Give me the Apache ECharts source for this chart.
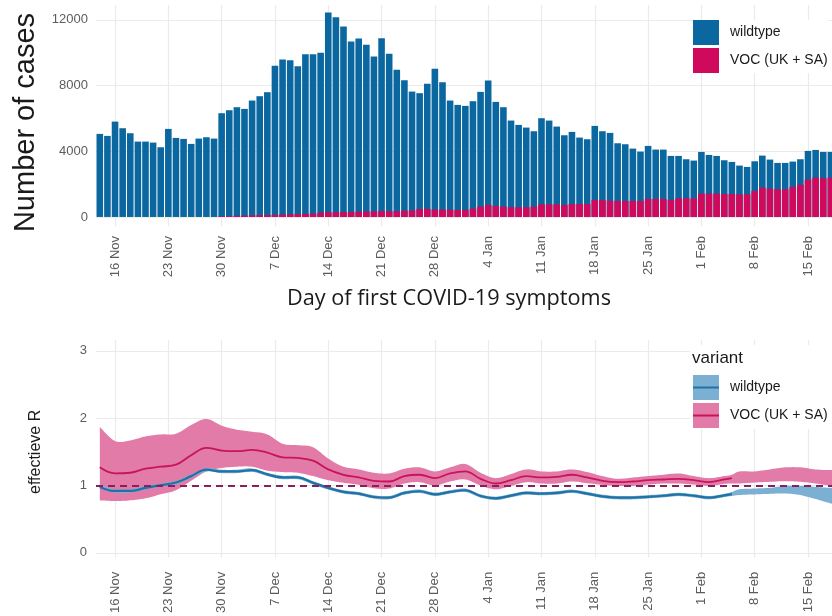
<!DOCTYPE html>
<html>
<head>
<meta charset="utf-8">
<script src="https://cdn.jsdelivr.net/npm/echarts@6/dist/echarts.min.js"></script>
<style>
html,body{margin:0;padding:0;background:#fff;}
#chart{width:832px;height:616px;}
</style>
</head>
<body>
<div id="chart"></div>
<script>
// ---- axis ticks (day offsets from 16 Nov) ----
const tickDays = [0, 7, 14, 21, 28, 35, 42, 49, 56, 63, 70, 77, 84, 91];
const tickLabels = ['16 Nov', '23 Nov', '30 Nov', '7 Dec', '14 Dec', '21 Dec', '28 Dec',
  '4 Jan', '11 Jan', '18 Jan', '25 Jan', '1 Feb', '8 Feb', '15 Feb'];
const caseTicks = [0, 4000, 8000, 12000];
const rTicks = [0, 1, 2, 3];

// ---- daily case counts, first bar = 14 Nov (day -2) ----
const caseFirstDay = -2;
const wildtypeCases = [
  5055, 4933, 5804, 5400, 5096, 4587, 4587, 4526, 4242, 5359,
  4811, 4750, 4446, 4770, 4851, 4770, 6274, 6446, 6609, 6497,
  6985, 7239, 7473, 9066, 9432, 9371, 8996, 9717, 9707, 9728,
  12155, 11870, 11290, 10376, 10540, 10145, 9423, 10520, 9577, 8603,
  7945, 7231, 7053, 7610, 8563, 7753, 6645, 6391, 6330, 6535,
  6983, 7570, 6333, 6049, 5277, 5013, 4850, 4588, 5240, 5097,
  4731, 4243, 4387, 4041, 3940, 4507, 4183, 4121, 3511, 3450,
  3186, 3004, 3228, 3005, 3005, 2680, 2578, 2375, 2294, 2539,
  2356, 2295, 2051, 1950, 1747, 1665, 1807, 1950, 1767, 1604,
  1604, 1543, 1545, 1742, 1687, 1604, 1566
];
const vocCases = [
  0, 0, 0, 0, 0, 0, 0, 0, 0, 0,
  0, 0, 0, 0, 0, 0, 40, 50, 70, 80,
  100, 110, 120, 130, 150, 170, 180, 190, 200, 260,
  290, 290, 300, 300, 320, 330, 340, 360, 350, 350,
  380, 400, 480, 490, 450, 450, 440, 430, 430, 510,
  630, 730, 670, 630, 590, 590, 590, 630, 770, 770,
  770, 730, 790, 790, 790, 1035, 1035, 995, 975, 975,
  975, 975, 1096, 1096, 1096, 1035, 1137, 1137, 1137, 1420,
  1420, 1420, 1400, 1400, 1380, 1380, 1583, 1785, 1725, 1685,
  1685, 1827, 1967, 2278, 2393, 2355, 2393
];

// ---- effective R (day offsets from 16 Nov) ----
const rLineDays = [-2, 0, 2, 4, 6, 8, 10, 12, 14, 16, 18, 20, 22, 24, 26, 28, 30, 32, 34, 36,
  38, 40, 42, 44, 46, 48, 50, 52, 54, 56, 58, 60, 62, 64, 66, 68, 70, 72, 74, 76, 78, 80, 81];
const rBandDays = rLineDays.concat([82, 84, 86, 88, 90, 92, 94, 95]);

const vocR = [1.27, 1.18, 1.19, 1.25, 1.28, 1.31, 1.45, 1.56, 1.52, 1.51,
  1.53, 1.49, 1.42, 1.41, 1.37, 1.24, 1.16, 1.12, 1.07, 1.06,
  1.14, 1.16, 1.11, 1.18, 1.21, 1.10, 1.03, 1.08, 1.14, 1.12,
  1.13, 1.16, 1.12, 1.07, 1.05, 1.06, 1.08, 1.09, 1.10, 1.08,
  1.05, 1.09, 1.11];
const vocRUpper = [1.87, 1.66, 1.67, 1.73, 1.76, 1.77, 1.90, 1.99, 1.89, 1.83,
  1.80, 1.76, 1.62, 1.60, 1.57, 1.40, 1.28, 1.24, 1.19, 1.18,
  1.25, 1.27, 1.21, 1.27, 1.32, 1.19, 1.11, 1.17, 1.24, 1.21,
  1.21, 1.24, 1.20, 1.14, 1.10, 1.12, 1.14, 1.16, 1.18, 1.14,
  1.11, 1.14, 1.16, 1.21, 1.21, 1.24, 1.27, 1.27, 1.24, 1.23, 1.25];
const vocRLower = [0.78, 0.77, 0.78, 0.81, 0.87, 0.93, 1.07, 1.21, 1.26, 1.28,
  1.28, 1.22, 1.20, 1.19, 1.14, 1.08, 1.04, 1.01, 0.96, 0.955,
  1.03, 1.05, 1.00, 1.06, 1.09, 1.00, 0.945, 0.995, 1.05, 1.03,
  1.03, 1.06, 1.035, 1.01, 0.995, 0.995, 1.015, 1.03, 1.03, 1.015,
  0.995, 1.025, 1.03, 1.03, 1.045, 1.055, 1.065, 1.055, 1.03, 0.995, 0.97];

const wildR = [0.98, 0.92, 0.92, 0.965, 1.005, 1.045, 1.14, 1.235, 1.21, 1.21,
  1.23, 1.165, 1.12, 1.12, 1.04, 0.965, 0.905, 0.88, 0.83, 0.82,
  0.89, 0.915, 0.87, 0.905, 0.93, 0.845, 0.81, 0.85, 0.89, 0.88,
  0.89, 0.915, 0.88, 0.84, 0.82, 0.82, 0.833, 0.848, 0.868, 0.848,
  0.82, 0.853, 0.873];
const wildRLower = [0.955, 0.895, 0.895, 0.94, 0.98, 1.02, 1.115, 1.21, 1.185, 1.185,
  1.205, 1.14, 1.095, 1.095, 1.015, 0.94, 0.88, 0.855, 0.805, 0.795,
  0.865, 0.89, 0.845, 0.88, 0.905, 0.82, 0.785, 0.825, 0.865, 0.855,
  0.865, 0.89, 0.855, 0.815, 0.795, 0.795, 0.808, 0.823, 0.843, 0.823,
  0.795, 0.828, 0.845, 0.86, 0.868, 0.877, 0.882, 0.858, 0.80, 0.735, 0.72];
const wildRUpper = [1.005, 0.945, 0.945, 0.99, 1.03, 1.07, 1.165, 1.26, 1.235, 1.235,
  1.255, 1.19, 1.145, 1.145, 1.065, 0.99, 0.93, 0.905, 0.855, 0.845,
  0.915, 0.94, 0.895, 0.93, 0.955, 0.87, 0.835, 0.875, 0.915, 0.905,
  0.915, 0.94, 0.905, 0.865, 0.845, 0.845, 0.858, 0.873, 0.893, 0.873,
  0.845, 0.878, 0.905, 0.945, 0.956, 0.966, 0.995, 0.995, 0.98, 0.966, 0.965];
const refR = 1;

const names = ['wildtype', 'VOC (UK + SA)'];
const bandNames = ['wildtype interval', 'VOC interval'];

// ---- styles ----
const C = {
  wtBar: '#0b679f', vocBar: '#cf0a5c',
  wtLine: '#1f72a6', vocLine: '#c8145b',
  wtBand: '#7cb0d3', vocBand: '#e27ba8',
  ref: '#8a1f5e', grid: '#ebebeb', tick: '#5c5c5c', title: '#1a1a1a'
};
const FONT = '"Liberation Sans", Arial, sans-serif';

const xMin = -2.5, xMax = 94.15;
function dayLabel(v) { const i = tickDays.indexOf(v); return i < 0 ? '' : tickLabels[i]; }

function xAxisCfg(gi, margin) {
  return {
    type: 'value', gridIndex: gi, min: xMin, max: xMax,
    axisLine: { show: false },
    axisTick: { show: false, customValues: tickDays },
    axisLabel: { customValues: tickDays, formatter: dayLabel, rotate: 90, margin: margin,
      color: C.tick, fontSize: 13, fontFamily: FONT },
    splitLine: { show: true, lineStyle: { color: C.grid, width: 1.2 } }
  };
}

const pairs = (days, vals) => vals.map((v, i) => [days[i], v]);

// smooth (Catmull-Rom) sampling of pixel points
function smoothPts(pts) {
  const out = [];
  const n = pts.length;
  for (let i = 0; i < n - 1; i++) {
    const p0 = pts[i - 1] || pts[i], p1 = pts[i], p2 = pts[i + 1], p3 = pts[i + 2] || pts[i + 1];
    const c1 = [p1[0] + (p2[0] - p0[0]) / 6, p1[1] + (p2[1] - p0[1]) / 6];
    const c2 = [p2[0] - (p3[0] - p1[0]) / 6, p2[1] - (p3[1] - p1[1]) / 6];
    for (let k = 0; k < 8; k++) {
      const t = k / 8, u = 1 - t;
      out.push([
        u * u * u * p1[0] + 3 * u * u * t * c1[0] + 3 * u * t * t * c2[0] + t * t * t * p2[0],
        u * u * u * p1[1] + 3 * u * u * t * c1[1] + 3 * u * t * t * c2[1] + t * t * t * p2[1]
      ]);
    }
  }
  out.push(pts[n - 1]);
  return out;
}

function bandSeries(name, lo, hi, color) {
  return {
    name: name, type: 'custom', xAxisIndex: 1, yAxisIndex: 1, clip: true, silent: true,
    data: rBandDays.map((d, i) => [d, lo[i], hi[i]]),
    encode: { x: 0, y: [1, 2] },
    renderItem: function (params, api) {
      if (params.dataIndex !== 0) return null;
      const top = smoothPts(rBandDays.map((d, i) => api.coord([d, hi[i]])));
      const bot = smoothPts(rBandDays.map((d, i) => api.coord([d, lo[i]]))).reverse();
      return { type: 'polygon', shape: { points: top.concat(bot) }, style: { fill: color } };
    }
  };
}

const totalCases = wildtypeCases.map((v, i) => v + vocCases[i]);

const chart = echarts.init(document.getElementById('chart'), null, { renderer: 'canvas' });
chart.setOption({
  animation: false,
  backgroundColor: '#fff',
  textStyle: { fontFamily: FONT },
  grid: [
    { left: 96, right: 0, top: 5, height: 221 },
    { left: 96, right: 0, top: 340, height: 220 }
  ],
  title: [
    { text: 'Day of first COVID-19 symptoms', left: 287, top: 288, padding: 0,
      textStyle: { fontSize: 21.7, fontWeight: 'normal', color: C.title, fontFamily: '"Open Sans", "Noto Sans", sans-serif' } },
    { text: 'variant', left: 690, top: 345, padding: [5, 100, 62, 2], backgroundColor: '#fff', z: 3,
      textStyle: { fontSize: 17, fontWeight: 'normal', color: C.title, fontFamily: FONT } }
  ],
  xAxis: [xAxisCfg(0, 10), xAxisCfg(1, 14)],
  yAxis: [
    { type: 'value', gridIndex: 0, min: -550, max: 12900,
      axisLine: { show: false }, axisTick: { show: false, customValues: caseTicks },
      axisLabel: { customValues: caseTicks, margin: 8, color: C.tick, fontSize: 13, fontFamily: FONT,
        formatter: v => String(v) },
      splitLine: { show: true, lineStyle: { color: C.grid, width: 1.2 } },
      name: 'Number of cases', nameLocation: 'middle', nameRotate: 90, nameGap: 38,
      nameTextStyle: { fontSize: 29, color: C.title, fontFamily: FONT, padding: [0, 14, 0, 0] } },
    { type: 'value', gridIndex: 1, min: -0.0735, max: 3.162,
      axisLine: { show: false }, axisTick: { show: false, customValues: rTicks },
      axisLabel: { customValues: rTicks, margin: 9, color: C.tick, fontSize: 13, fontFamily: FONT },
      splitLine: { show: true, lineStyle: { color: C.grid, width: 1.2 } },
      name: 'effectieve R', nameLocation: 'middle', nameRotate: 90, nameGap: 52,
      nameTextStyle: { fontSize: 16, color: C.title, fontFamily: FONT, padding: [0, 6, 0, 0] } }
  ],
  legend: [
    { orient: 'vertical', left: 693, top: 20, itemWidth: 26, itemHeight: 25, itemGap: 3,
      selectedMode: false, backgroundColor: '#fff', padding: 0, z: 4,
      textStyle: { fontSize: 14, color: C.title, fontFamily: FONT, padding: [0, 0, 0, 6] },
      data: [
        { name: names[0], icon: 'rect', itemStyle: { color: C.wtBar, borderWidth: 0 } },
        { name: names[1], icon: 'rect', itemStyle: { color: C.vocBar, borderWidth: 0 } }
      ] },
    { orient: 'vertical', left: 693, top: 375, itemWidth: 26, itemHeight: 25, itemGap: 3,
      selectedMode: false, padding: 0, z: 4, formatter: () => '',
      textStyle: { fontSize: 14 },
      data: [
        { name: bandNames[0], icon: 'rect', itemStyle: { color: C.wtBand, borderWidth: 0, opacity: 1 } },
        { name: bandNames[1], icon: 'rect', itemStyle: { color: C.vocBand, borderWidth: 0, opacity: 1 } }
      ] },
    { orient: 'vertical', left: 693, top: 375, itemWidth: 26, itemHeight: 2, itemGap: 3,
      selectedMode: false, padding: 0, z: 5,
      textStyle: { fontSize: 14, lineHeight: 25, color: C.title, fontFamily: FONT, padding: [0, 0, 0, 6] },
      data: [
        { name: names[0], icon: 'rect', itemStyle: { color: C.wtLine, borderWidth: 0 } },
        { name: names[1], icon: 'rect', itemStyle: { color: C.vocLine, borderWidth: 0 } }
      ] }
  ],
  series: [
    // --- top: daily cases (total in blue, VOC part in magenta at the base) ---
    { name: names[0], type: 'bar', xAxisIndex: 0, yAxisIndex: 0, barWidth: 6.6, barGap: '-100%',
      itemStyle: { color: C.wtBar }, data: totalCases.map((v, i) => [caseFirstDay + i, v]) },
    { name: names[1], type: 'bar', xAxisIndex: 0, yAxisIndex: 0, barWidth: 6.6, barGap: '-100%',
      itemStyle: { color: C.vocBar }, data: vocCases.map((v, i) => [caseFirstDay + i, v]) },
    // --- bottom: confidence bands ---
    bandSeries(bandNames[1], vocRLower, vocRUpper, C.vocBand),
    bandSeries(bandNames[0], wildRLower, wildRUpper, C.wtBand),
    // --- bottom: central estimates ---
    { name: names[1], type: 'line', xAxisIndex: 1, yAxisIndex: 1, smooth: 0.4, symbol: 'none',
      lineStyle: { color: C.vocLine, width: 1.8 }, data: pairs(rLineDays, vocR) },
    { name: names[0], type: 'line', xAxisIndex: 1, yAxisIndex: 1, smooth: 0.4, symbol: 'none',
      lineStyle: { color: C.wtLine, width: 2.2 }, data: pairs(rLineDays, wildR) },
    // --- reference line R = 1 ---
    { name: 'ref', type: 'line', xAxisIndex: 1, yAxisIndex: 1, data: [], z: 10, silent: true,
      markLine: { silent: true, symbol: 'none', label: { show: false },
        lineStyle: { color: C.ref, width: 2, type: [7, 5] },
        data: [{ yAxis: refR }] } }
  ]
});
</script>
</body>
</html>
